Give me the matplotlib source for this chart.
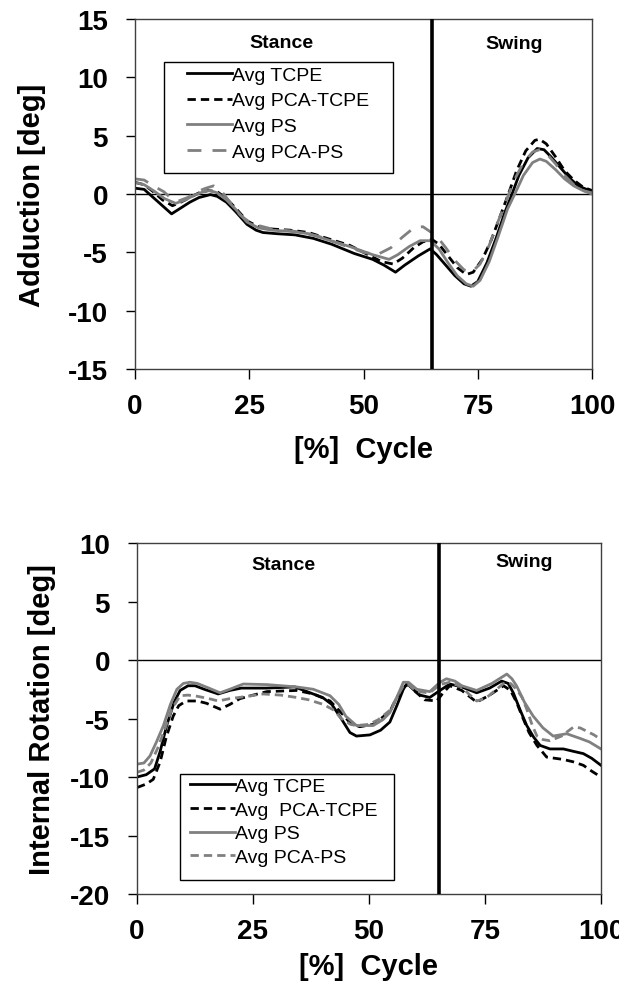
"""
Gait cycle kinematics: adduction and internal rotation averages
"""

import matplotlib.pyplot as plt
from matplotlib.patches import Rectangle

plt.rcParams['font.family'] = ['Liberation Sans', 'DejaVu Sans']
plt.rcParams['axes.unicode_minus'] = False

# ---- Adduction (top panel) ----
add_tcpe_x = [0, 2, 4, 6, 8, 10, 12, 14, 16.5, 18, 20, 22, 24.5, 26.5, 28, 31, 35, 39, 43, 48, 52, 54.5, 57, 59, 62, 64.6, 66, 68, 70, 72, 73.5, 75, 77, 79, 81, 82.5, 84, 86, 88, 89.5, 91, 93, 95, 97, 100]
add_tcpe_y = [0.5, 0.4, -0.3, -1.0, -1.7, -1.2, -0.7, -0.3, -0.05, -0.2, -0.7, -1.5, -2.6, -3.1, -3.3, -3.4, -3.5, -3.8, -4.3, -5.1, -5.6, -6.1, -6.7, -6.1, -5.3, -4.7, -5.2, -6.1, -7.0, -7.7, -7.9, -7.5, -5.9, -3.8, -1.5, 0.0, 1.6, 3.1, 3.9, 3.8, 3.2, 2.3, 1.4, 0.7, 0.2]

add_pca_tcpe_x = [0, 2, 4, 6, 8.2, 10, 12, 14, 16, 18, 20, 22, 24.5, 27, 30, 34, 38, 42, 47, 51, 54, 56.5, 58.5, 61, 63, 65, 66.5, 68.5, 70.5, 72.5, 74, 76, 78, 80, 81.7, 83.5, 85.5, 87.5, 88.5, 90, 92, 94, 96, 98, 100]
add_pca_tcpe_y = [1.0, 0.8, 0.2, -0.5, -1.0, -0.7, -0.3, 0.1, 0.3, 0.2, -0.4, -1.2, -2.3, -2.8, -3.0, -3.1, -3.3, -3.8, -4.4, -5.2, -5.8, -6.0, -5.5, -4.6, -4.1, -3.9, -4.3, -5.3, -6.3, -6.9, -6.7, -5.6, -3.9, -1.8, 0.0, 2.0, 3.7, 4.6, 4.7, 4.3, 3.2, 2.0, 1.2, 0.6, 0.3]

add_ps_x = [0, 2, 4, 6.5, 8.9, 11, 13, 15, 16.4, 18, 20, 22, 24.5, 27, 30, 34, 38, 42, 47, 52, 55.6, 57.5, 60, 62.4, 64.6, 66.5, 68.5, 70.5, 72.5, 74, 75.5, 77.5, 79.5, 81.5, 83.1, 85, 87, 88.6, 90, 92, 94, 96, 98, 100]
add_ps_y = [1.0, 0.8, 0.3, -0.4, -0.8, -0.5, -0.1, 0.2, 0.3, 0.1, -0.5, -1.3, -2.4, -2.9, -3.1, -3.2, -3.4, -3.9, -4.5, -5.2, -5.6, -5.2, -4.5, -4.0, -4.0, -4.7, -5.9, -7.0, -7.7, -7.9, -7.4, -5.8, -3.6, -1.3, 0.0, 1.6, 2.7, 3.0, 2.8, 2.1, 1.3, 0.7, 0.3, 0.0]

add_pca_ps_x = [0, 2, 4, 6.3, 8, 9.5, 11.5, 13.6, 15.5, 17.2, 19, 21, 23, 25, 27, 30, 35, 40, 45, 50, 53, 56, 58.5, 61, 63, 64.5, 66, 68, 70, 72, 73.7, 75.5, 77.5, 79.5, 81.5, 83, 85, 87, 88.5, 90, 92, 94, 96, 98, 100]
add_pca_ps_y = [1.3, 1.2, 0.7, 0.2, -0.4, -0.6, -0.3, 0.2, 0.5, 0.7, 0.2, -0.8, -1.8, -2.4, -2.7, -3.0, -3.2, -3.6, -4.3, -5.0, -5.2, -4.6, -3.7, -2.9, -2.8, -3.2, -3.6, -4.6, -5.7, -6.5, -6.7, -6.0, -4.4, -2.3, -0.3, 1.2, 2.7, 3.6, 3.8, 3.5, 2.6, 1.6, 0.8, 0.3, 0.1]

# ---- Internal rotation (bottom panel) ----
rot_tcpe_x = [0, 2, 3.8, 5, 6.4, 8, 9.3, 11, 12.5, 14.5, 17.5, 20, 22.5, 28, 34, 37.3, 40, 42, 44, 45.9, 47.3, 50.2, 52.5, 54.5, 56, 57.4, 58.2, 59.5, 61, 63.1, 65.3, 67.4, 70, 73.2, 76, 78.6, 80, 81.1, 82.5, 84, 85.5, 86.9, 89, 91.9, 94, 96.2, 98, 100]
rot_tcpe_y = [-10.0, -9.8, -9.3, -7.8, -5.6, -3.6, -2.6, -2.2, -2.2, -2.5, -2.9, -2.6, -2.4, -2.4, -2.3, -2.8, -3.2, -3.8, -5.0, -6.2, -6.5, -6.4, -6.0, -5.3, -3.9, -2.5, -2.0, -2.5, -3.0, -3.2, -2.6, -2.05, -2.3, -2.8, -2.4, -1.8, -2.0, -2.8, -4.2, -5.6, -6.6, -7.3, -7.6, -7.6, -7.8, -8.0, -8.4, -9.0]

rot_pca_tcpe_x = [0, 2, 3.5, 5, 6.3, 7.8, 9, 10.6, 13, 15, 17.9, 20, 22.2, 25, 28, 34.4, 38, 41.6, 44, 46, 48, 51, 54.5, 56, 57.4, 58.5, 60, 62, 64.6, 66, 67.4, 70, 73.2, 76, 79, 80.5, 81.8, 83, 84.5, 86.2, 88.3, 91.9, 94, 96.2, 98, 100]
rot_pca_tcpe_y = [-10.9, -10.6, -10.2, -8.7, -6.6, -4.8, -3.9, -3.5, -3.5, -3.7, -4.2, -3.8, -3.3, -3.0, -2.7, -2.6, -2.9, -3.5, -4.5, -5.4, -5.7, -5.5, -4.4, -3.2, -2.3, -2.1, -2.7, -3.4, -3.5, -2.8, -2.2, -2.6, -3.6, -3.0, -2.2, -2.6, -3.6, -4.8, -6.2, -7.3, -8.3, -8.5, -8.7, -9.0, -9.5, -10.0]

rot_ps_x = [0, 1.5, 2.8, 4.2, 5.7, 7.2, 8.6, 10, 11.4, 13, 15.5, 17.9, 20, 22.9, 28, 34.4, 38, 41.6, 43.5, 45, 47.3, 50.9, 53, 54.5, 56, 57.4, 58.5, 60.3, 63.1, 65.3, 66.7, 68.5, 70, 73.2, 76.5, 78.5, 79.7, 80.8, 81.8, 83.5, 85.4, 87.5, 89.7, 92.6, 95.5, 97.5, 100]
rot_ps_y = [-8.9, -8.8, -8.2, -7.0, -5.6, -3.8, -2.5, -2.0, -1.9, -2.0, -2.4, -2.8, -2.5, -2.05, -2.1, -2.3, -2.5, -3.05, -3.8, -4.8, -5.6, -5.6, -5.1, -4.5, -3.2, -1.9, -1.9, -2.5, -2.7, -1.9, -1.6, -1.8, -2.2, -2.6, -2.0, -1.5, -1.2, -1.6, -2.2, -3.6, -4.8, -5.8, -6.5, -6.3, -6.7, -7.0, -7.6]

rot_pca_ps_x = [0, 1.5, 3, 4.5, 6, 7.5, 9.3, 11, 13, 15.5, 17.5, 20, 22, 27.2, 31, 34.4, 37, 40.2, 42.5, 44, 46, 47.3, 50, 52, 54.5, 56, 57.4, 58.5, 60.3, 63.1, 65.3, 67.4, 70, 71.5, 73.2, 75, 76, 79, 80.5, 81.8, 83, 84, 85.2, 86.2, 87.5, 89, 91.5, 94, 95.5, 97, 98.5, 100]
rot_pca_ps_y = [-9.6, -9.4, -8.8, -7.5, -5.9, -4.2, -3.05, -3.0, -3.1, -3.3, -3.5, -3.3, -3.2, -2.9, -3.0, -3.2, -3.4, -3.8, -4.3, -5.0, -5.5, -5.6, -5.5, -5.1, -4.3, -3.2, -2.2, -2.1, -2.7, -2.8, -2.1, -1.9, -2.3, -2.9, -3.5, -3.3, -3.0, -2.0, -2.0, -2.5, -3.2, -4.2, -5.6, -6.5, -6.8, -6.9, -6.5, -5.75, -5.8, -6.1, -6.4, -6.8]

x_ticks = [0, 25, 50, 75, 100]
add_yticks = [-15, -10, -5, 0, 5, 10, 15]
rot_yticks = [-20, -15, -10, -5, 0, 5, 10]
phase_split = 65

GRAY = '#808080'
LW = 2.0
BLACK_DASH = (0, (3, 1.8))


def style_axes(ax, yticks, ylabel, ypad, xpad):
    ax.set_xlim(0, 100)
    ax.set_ylim(yticks[0], yticks[-1])
    ax.set_xticks(x_ticks)
    ax.set_yticks(yticks)
    ax.tick_params(axis='y', direction='out', length=6.5, width=1, labelsize=20, pad=13)
    ax.tick_params(axis='x', direction='out', length=7, width=1, labelsize=20, pad=10)
    for lab in ax.get_xticklabels() + ax.get_yticklabels():
        lab.set_fontweight('bold')
    for sp in ax.spines.values():
        sp.set_color('#404040')
        sp.set_linewidth(1.0)
    ax.set_xlabel('[%]  Cycle', fontsize=21, fontweight='bold', labelpad=xpad)
    ax.set_ylabel(ylabel, fontsize=21, fontweight='bold', labelpad=ypad)
    ax.axhline(0, color='black', lw=1.0, zorder=1)
    ax.axvline(phase_split, color='black', lw=2.6, zorder=5)


def add_legend(ax, anchor, spacing, box):
    leg = ax.legend(loc='upper left', bbox_to_anchor=anchor, fontsize=14,
                    frameon=False, handlelength=2.3, handletextpad=0.0,
                    borderpad=0, labelspacing=spacing, borderaxespad=0)
    x0, y0, x1, y1 = box
    ax.add_patch(Rectangle((x0, y0), x1 - x0, y1 - y0, transform=ax.transAxes,
                           fill=True, facecolor='white', edgecolor='black',
                           lw=1.0, zorder=6))
    leg.set_zorder(7)
    return leg


fig = plt.figure(figsize=(6.19, 9.87), dpi=100)

# top panel
ax1 = fig.add_axes([0.2181, 0.6251, 0.7383, 0.3546])
ax1.plot(add_tcpe_x, add_tcpe_y, color='black', lw=LW, label='Avg TCPE')
ax1.plot(add_pca_tcpe_x, add_pca_tcpe_y, color='black', lw=LW, ls=BLACK_DASH, label='Avg PCA-TCPE')
ax1.plot(add_ps_x, add_ps_y, color=GRAY, lw=LW, label='Avg PS')
ax1.plot(add_pca_ps_x, add_pca_ps_y, color=GRAY, lw=LW, ls=(0, (5, 4)), label='Avg PCA-PS')
style_axes(ax1, add_yticks, 'Adduction [deg]', 16, 12)
ax1.text(32, 13.0, 'Stance', fontsize=14, fontweight='bold', ha='center', va='center')
ax1.text(83, 12.9, 'Swing', fontsize=14, fontweight='bold', ha='center', va='center')
add_legend(ax1, (0.114, 0.866), 0.42, (0.0635, 0.56, 0.5646, 0.877))

# bottom panel
ax2 = fig.add_axes([0.2213, 0.0932, 0.7496, 0.3556])
ax2.plot(rot_tcpe_x, rot_tcpe_y, color='black', lw=LW, label='Avg TCPE')
ax2.plot(rot_pca_tcpe_x, rot_pca_tcpe_y, color='black', lw=LW, ls=BLACK_DASH, label='Avg  PCA-TCPE')
ax2.plot(rot_ps_x, rot_ps_y, color=GRAY, lw=LW, label='Avg PS')
ax2.plot(rot_pca_ps_x, rot_pca_ps_y, color=GRAY, lw=LW, ls=BLACK_DASH, label='Avg PCA-PS')
style_axes(ax2, rot_yticks, 'Internal Rotation [deg]', 10, 6)
ax2.text(31.5, 8.2, 'Stance', fontsize=14, fontweight='bold', ha='center', va='center')
ax2.text(83.4, 8.4, 'Swing', fontsize=14, fontweight='bold', ha='center', va='center')
add_legend(ax2, (0.114, 0.333), 0.32, (0.0927, 0.040, 0.554, 0.342))

plt.savefig('out.png', dpi=100)
plt.close()
